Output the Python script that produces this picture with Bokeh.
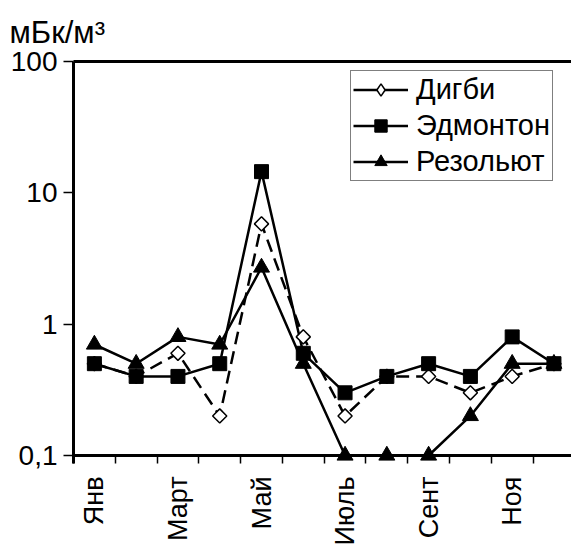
import math

from bokeh.embed import file_html
from bokeh.models import (FixedTicker, Legend, LegendItem, LinearAxis, LogAxis,
                          Range1d, Span, Title)
from bokeh.plotting import figure
from bokeh.resources import INLINE

# Monthly concentrations, mBq/m3
months = list(range(1, 13))
month_labels = {1: "Янв", 3: "Март", 5: "Май", 7: "Июль", 9: "Сент", 11: "Ноя"}
digby = [0.5, 0.4, 0.6, 0.2, 5.8, 0.8, 0.2, 0.4, 0.4, 0.3, 0.4, 0.5]
edmonton = [0.5, 0.4, 0.4, 0.5, 14.5, 0.6, 0.3, 0.4, 0.5, 0.4, 0.8, 0.5]
resolute = [0.7, 0.5, 0.8, 0.7, 2.7, 0.5, 0.1, 0.1, 0.1, 0.2, 0.5, 0.5]
y_ticks = [0.1, 1, 10, 100]
y_tick_labels = {0.1: "0,1", 1: "1", 10: "10", 100: "100"}
unit_text = "мБк/м³"

FONT = "Liberation Sans"
BLACK = "#000000"
y_floor = 0.1
nan = float("nan")

# the frame reaches a little below 0.1 so markers sitting on the axis are not cut
y_low = 10 ** (-1 - 8 / 131)

p = figure(
    width=571, height=549,
    y_axis_type="log",
    x_range=Range1d(0.5, 12.42),
    y_range=Range1d(y_low, 100),
    output_backend="svg", toolbar_location=None,
    min_border_left=73, min_border_top=61, min_border_bottom=86, min_border_right=0,
    x_axis_location=None, y_axis_location=None,
)
p.outline_line_color = None
p.background_fill_color = "white"
p.border_fill_color = "white"
p.grid.visible = False

# unit caption
p.title = Title(text=unit_text, align="left", offset=-64, standoff=23,
                text_line_height=0.75,
                text_font=FONT, text_font_size="31px", text_font_style="normal",
                text_color=BLACK)

# y axis (log)
yaxis = LogAxis(ticker=FixedTicker(ticks=y_ticks, minor_ticks=[]))
yaxis.major_label_overrides = y_tick_labels
yaxis.axis_line_width = 3
yaxis.major_tick_line_width = 1.5
yaxis.major_tick_out = 10
yaxis.major_tick_in = 0
yaxis.minor_tick_line_color = None
yaxis.major_label_standoff = 6
yaxis.major_label_text_font = FONT
yaxis.major_label_text_font_size = "28px"
yaxis.major_label_text_color = BLACK
p.add_layout(yaxis, "left")

# x axis: labels at month centres, tick marks between months
xaxis = LinearAxis(
    ticker=FixedTicker(ticks=list(month_labels.keys()),
                       minor_ticks=[m - 0.5 for m in months]),
)
xaxis.major_label_overrides = month_labels
xaxis.major_label_orientation = math.pi / 2
xaxis.axis_line_color = None
xaxis.major_tick_line_color = None
xaxis.minor_tick_out = 0
xaxis.minor_tick_in = 8
xaxis.minor_tick_line_width = 1.5
xaxis.minor_tick_line_color = BLACK
xaxis.major_label_standoff = 7
xaxis.major_label_text_font = FONT
xaxis.major_label_text_font_size = "27px"
xaxis.major_label_text_color = BLACK
p.add_layout(xaxis, "below")

# top border line
top = LinearAxis(ticker=FixedTicker(ticks=[]))
top.axis_line_width = 3
top.major_label_text_font_size = "0px"
top.major_tick_line_color = None
top.minor_tick_line_color = None
p.add_layout(top, "above")

# baseline of the value axis
p.add_layout(Span(location=y_floor, dimension="width", line_color=BLACK, line_width=3))

# series
l_dig = p.line(months, digby, line_color=BLACK, line_width=2.5, line_dash="13 7")
l_res = p.line(months, resolute, line_color=BLACK, line_width=2.5)
l_edm = p.line(months, edmonton, line_color=BLACK, line_width=2.5)

p.scatter(months, digby, marker="square", angle=math.pi / 4, size=10,
          fill_color="white", line_color=BLACK, line_width=1.5)
m_res = p.scatter(months, resolute, marker="triangle", size=16,
                  fill_color=BLACK, line_color=BLACK)
m_edm = p.scatter(months, edmonton, marker="square", size=14,
                  fill_color=BLACK, line_color=BLACK)

# legend key for Дигби: solid stroke with an open diamond (draws nothing in the plot)
key_line = p.line([nan], [nan], line_color=BLACK, line_width=2.5)
key_mark = p.scatter([nan], [nan], marker="diamond", size=14,
                     fill_color="white", line_color=BLACK, line_width=1.5)

legend = Legend(
    items=[
        LegendItem(label="Дигби", renderers=[key_line, key_mark]),
        LegendItem(label="Эдмонтон", renderers=[l_edm, m_edm]),
        LegendItem(label="Резольют", renderers=[l_res, m_res]),
    ],
    location=(277, 282),
    border_line_color=BLACK, border_line_width=1,
    background_fill_color="white", background_fill_alpha=1,
    padding=2, spacing=3, margin=0,
    glyph_width=55, glyph_height=31, label_standoff=8,
    label_text_font=FONT, label_text_font_size="29px", label_text_color=BLACK,
)
p.add_layout(legend)

open("out.html", "w").write(file_html(p, INLINE))
